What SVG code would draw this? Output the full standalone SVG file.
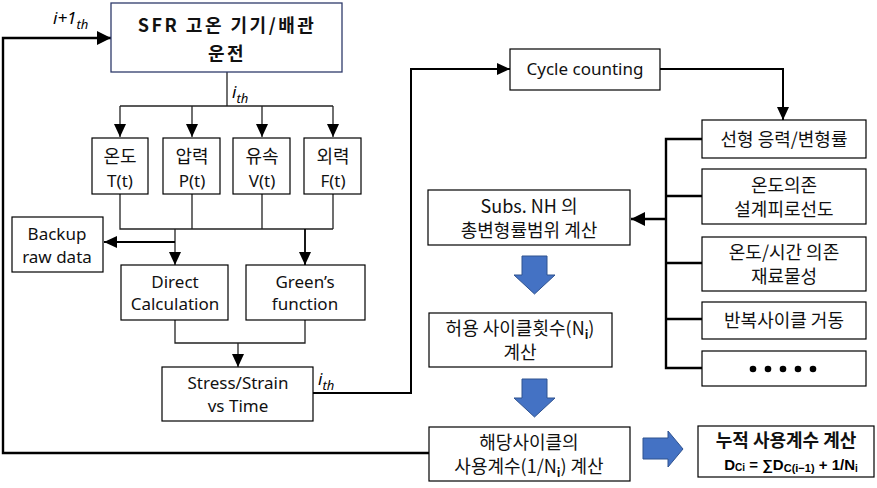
<svg xmlns="http://www.w3.org/2000/svg" width="877" height="488" viewBox="0 0 877 488">
<defs>
<marker id="ah" viewBox="0 0 13 12" refX="13" refY="6" markerWidth="13" markerHeight="12" markerUnits="userSpaceOnUse" orient="auto"><path d="M0,0 L13,6 L0,12 z" fill="#000"/></marker>
<marker id="ah2" viewBox="0 0 14 14" refX="14" refY="7" markerWidth="14" markerHeight="14" markerUnits="userSpaceOnUse" orient="auto"><path d="M0,0 L14,7 L0,14 z" fill="#000"/></marker>
<style>
.box{fill:#fff;stroke:#000;stroke-width:1.2}
.t{font-family:"Noto Sans","Noto Sans CJK KR",sans-serif;font-size:17px;fill:#111;text-anchor:middle}
.k{font-family:"Noto Sans CJK KR","Noto Sans",sans-serif;font-size:18px;fill:#111;text-anchor:middle}
.ln{fill:none;stroke:#222;stroke-width:1.3}
.lb{fill:none;stroke:#000;stroke-width:2.4}
.it{font-family:"Noto Sans",sans-serif;font-style:italic;fill:#000}
.blue{fill:#4472c4;stroke:#2f528f;stroke-width:1}
</style>
</defs>

<g id="connectors">
<path class="ln" d="M227,72 V106"/>
<path class="ln" d="M120,106 H333"/>
<path class="ln" d="M120,106 V137" marker-end="url(#ah)"/>
<path class="ln" d="M192,106 V137" marker-end="url(#ah)"/>
<path class="ln" d="M262,106 V137" marker-end="url(#ah)"/>
<path class="ln" d="M333,106 V137" marker-end="url(#ah)"/>
<path class="ln" d="M120,194 V229 H333 M192,194 V229 M262,194 V229 M333,194 V229"/>
<path class="ln" d="M175,229 V265" marker-end="url(#ah)"/>
<path class="lb" style="stroke-width:1.8" d="M305,229 V265" marker-end="url(#ah)"/>
<path class="lb" style="stroke-width:2" d="M175,242 H104" marker-end="url(#ah)"/>
<path class="ln" d="M175,320 V343 H305 V320"/>
<path class="ln" d="M238,343 V367" marker-end="url(#ah)"/>
<path class="lb" style="stroke-width:2" d="M313,393 H411 V69 H510" marker-end="url(#ah)"/>
<path class="lb" style="stroke-width:2" d="M660,69 H783 V120" marker-end="url(#ah)"/>
<path class="lb" d="M702,139 H666 V368 H702 M666,196 H702 M666,263 H702 M666,319 H702"/>
<path class="lb" d="M666,219 H631" marker-end="url(#ah2)"/>
<path class="lb" d="M429,453 H3 V38 H111" marker-end="url(#ah2)"/>
<path class="blue" d="M522,256 H547 V275 H555 L534.5,294 L514,275 H522 Z"/>
<path class="blue" d="M522,379 H547 V398 H555 L534.5,417 L514,398 H522 Z"/>
<path class="blue" d="M643,438 H668 V431 L683,449 L668,467 V459 H643 Z"/>
<text class="it" x="53" y="24" font-size="17">i+1<tspan font-size="13" dy="5">th</tspan></text>
<text class="it" x="232" y="98" font-size="17">i<tspan font-size="13" dy="5">th</tspan></text>
<text class="it" x="318" y="385" font-size="17">i<tspan font-size="13" dy="5">th</tspan></text>
</g>

<g id="n-top">
<rect x="111" y="3" width="231" height="69" fill="#fff" stroke="#2f3b6b" stroke-width="1.3"/>
<text class="k" x="227" y="32" font-size="23" font-weight="bold" fill="#000" letter-spacing="2.5">SFR 고온 기기/배관</text>
<text class="k" x="227" y="60" font-size="23" font-weight="bold" fill="#000" letter-spacing="2.5">운전</text>
</g>

<g id="n-temp"><rect class="box" x="92" y="138" width="56" height="56"/><text class="k" x="120" y="163" font-size="20">온도</text><text class="t" x="120" y="187" font-size="18">T(t)</text></g>
<g id="n-press"><rect class="box" x="163" y="138" width="57" height="56"/><text class="k" x="192" y="163" font-size="20">압력</text><text class="t" x="192" y="187" font-size="18">P(t)</text></g>
<g id="n-vel"><rect class="box" x="233" y="138" width="57" height="56"/><text class="k" x="262" y="163" font-size="20">유속</text><text class="t" x="262" y="187" font-size="18">V(t)</text></g>
<g id="n-force"><rect class="box" x="304" y="138" width="57" height="56"/><text class="k" x="333" y="163" font-size="20">외력</text><text class="t" x="333" y="187" font-size="18">F(t)</text></g>

<g id="n-backup"><rect class="box" x="12" y="217" width="91" height="55"/><text class="t" x="57" y="240">Backup</text><text class="t" x="57" y="263">raw data</text></g>
<g id="n-direct"><rect class="box" x="121" y="265" width="107" height="55"/><text class="t" x="175" y="288">Direct</text><text class="t" x="175" y="310">Calculation</text></g>
<g id="n-green"><rect class="box" x="246" y="265" width="119" height="55"/><text class="t" x="305" y="288">Green’s</text><text class="t" x="305" y="310">function</text></g>
<g id="n-stress"><rect class="box" x="162" y="367" width="151" height="54"/><text class="t" x="238" y="389">Stress/Strain</text><text class="t" x="238" y="412">vs Time</text></g>

<g id="n-cycle"><rect class="box" x="510" y="49" width="150" height="41"/><text class="t" x="585" y="75">Cycle counting</text></g>
<g id="n-linear"><rect class="box" x="702" y="120" width="164" height="38"/><text class="k" x="784" y="146">선형 응력/변형률</text></g>
<g id="n-tempdep"><rect class="box" x="702" y="169" width="164" height="55"/><text class="k" x="784" y="192">온도의존</text><text class="k" x="784" y="216">설계피로선도</text></g>
<g id="n-mat"><rect class="box" x="702" y="237" width="164" height="54"/><text class="k" x="784" y="259">온도/시간 의존</text><text class="k" x="784" y="283">재료물성</text></g>
<g id="n-rep"><rect class="box" x="702" y="302" width="164" height="37"/><text class="k" x="784" y="327">반복사이클 거동</text></g>
<g id="n-dots"><rect class="box" x="702" y="351" width="164" height="35"/>
<circle cx="753" cy="369" r="3.3"/><circle cx="768" cy="369" r="3.3"/><circle cx="783" cy="369" r="3.3"/><circle cx="798" cy="369" r="3.3"/><circle cx="813" cy="369" r="3.3"/></g>

<g id="n-subs"><rect class="box" x="428" y="190" width="202" height="55"/><text class="k" x="529" y="213">Subs. NH 의</text><text class="k" x="529" y="237">총변형률범위 계산</text></g>
<g id="n-allow"><rect class="box" x="429" y="313" width="183" height="54"/><text class="k" x="520" y="335">허용 사이클횟수(N<tspan font-size="12" dy="4" font-weight="bold">i</tspan><tspan dy="-4">)</tspan></text><text class="k" x="520" y="359">계산</text></g>
<g id="n-usage"><rect class="box" x="429" y="427" width="201" height="54"/><text class="k" x="529" y="449">해당사이클의</text><text class="k" x="529" y="473">사용계수(1/N<tspan font-size="12" dy="4" font-weight="bold">i</tspan><tspan dy="-4">) 계산</tspan></text></g>
<g id="n-cum"><rect class="box" x="698" y="426" width="176" height="51"/>
<text class="k" x="786" y="447" font-size="19" font-weight="bold" fill="#1a1aff">누적 사용계수 계산</text>
<text x="791" y="470" font-family="Liberation Sans, Arial, sans-serif" font-size="15" font-weight="bold" text-anchor="middle" fill="#000">D<tspan font-size="10" dy="1">Ci</tspan><tspan dy="-1"> = ∑D</tspan><tspan font-size="11" dy="2">C(i−1)</tspan><tspan dy="-2"> + 1/N</tspan><tspan font-size="10" dy="2">i</tspan></text>
</g>
</svg>
